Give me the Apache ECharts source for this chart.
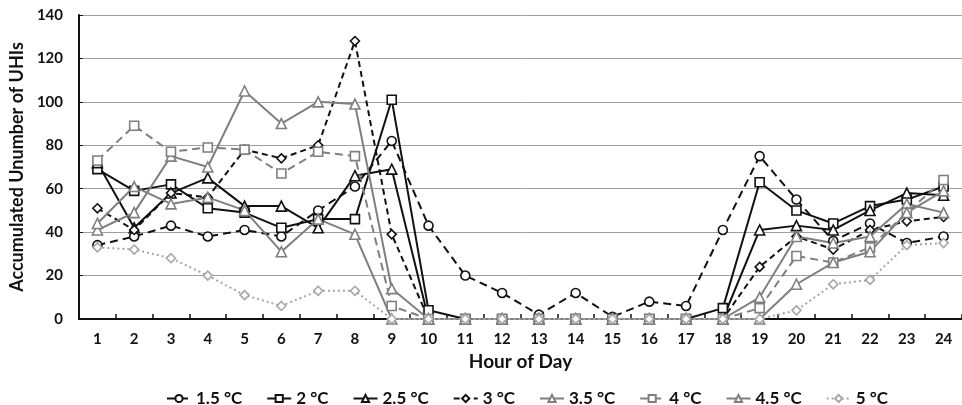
<!DOCTYPE html>
<html>
<head>
<meta charset="utf-8">
<script src="https://cdn.jsdelivr.net/npm/echarts@6.0.0/dist/echarts.min.js"></script>
<style>
  html, body { margin: 0; padding: 0; background: #fff; }
  #chart { width: 962px; height: 405px; }
</style>
</head>
<body>
<div id="chart"></div>
<script>
// hours on the x axis
var hours = ['1','2','3','4','5','6','7','8','9','10','11','12','13','14','15','16','17','18','19','20','21','22','23','24'];
var yTicks = [0, 20, 40, 60, 80, 100, 120, 140];

// accumulated number of UHIs per threshold
var t15 = [34, 38, 43, 38, 41, 38, 50, 61, 82, 43, 20, 12, 2, 12, 1, 8, 6, 41, 75, 55, 36, 44, 35, 38];
var t20 = [69, 59, 62, 51, 49, 42, 46, 46, 101, 4, 0, 0, 0, 0, 0, 0, 0, 5, 63, 50, 44, 52, 55, 61];
var t25 = [72, 42, 58, 65, 52, 52, 42, 66, 69, 0, 0, 0, 0, 0, 0, 0, 0, 0, 41, 43, 41, 50, 58, 57];
var t30 = [51, 41, 58, 56, 78, 74, 80, 128, 39, 0, 0, 0, 0, 0, 0, 0, 0, 0, 24, 38, 32, 41, 45, 47];
var t35 = [41, 49, 75, 70, 105, 90, 100, 99, 14, 0, 0, 0, 0, 0, 0, 0, 0, 0, 10, 38, 35, 38, 53, 49];
var t40 = [73, 89, 77, 79, 78, 67, 77, 75, 6, 0, 0, 0, 0, 0, 0, 0, 0, 0, 5, 29, 26, 33, 49, 64];
var t45 = [44, 61, 53, 56, 50, 31, 46, 39, 0, 0, 0, 0, 0, 0, 0, 0, 0, 0, 0, 16, 26, 31, 49, 59];
var t50 = [33, 32, 28, 20, 11, 6, 13, 13, 0, 0, 0, 0, 0, 0, 0, 0, 0, 0, 0, 4, 16, 18, 34, 35];

var FONT = 'Lato';

// one line series with hollow markers
function mk(name, data, color, symbol, dash) {
  return {
    name: name,
    type: 'line',
    data: data,
    symbol: symbol,
    symbolSize: symbol === 'triangle' ? 10 : 9,
    lineStyle: { color: color, width: 2, type: dash },
    itemStyle: { color: '#fff', borderColor: color, borderWidth: 1.6 },
    emphasis: { disabled: true }
  };
}

var chart = echarts.init(document.getElementById('chart'));
chart.setOption({
  animation: false,
  grid: { left: 74, right: 0, top: 15, bottom: 86 },
  legend: {
    top: 385,
    left: 161,
    itemGap: 24,
    itemWidth: 24,
    itemHeight: 9,
    textStyle: { fontFamily: FONT, fontWeight: 'bold', fontSize: 17, color: '#111' },
    data: ['1.5 °C', '2 °C', '2.5 °C', '3 °C', '3.5 °C', '4 °C', '4.5 °C', '5 °C']
  },
  xAxis: {
    type: 'category',
    data: hours,
    boundaryGap: true,
    name: 'Hour of Day',
    nameLocation: 'middle',
    nameGap: 32,
    nameTextStyle: { fontFamily: FONT, fontWeight: 'bold', fontSize: 19, color: '#111' },
    axisLine: { lineStyle: { color: '#111', width: 2 } },
    axisTick: { show: true, inside: true, length: 5, lineStyle: { color: '#111', width: 1.5 } },
    axisLabel: { fontFamily: FONT, fontWeight: 'bold', fontSize: 15, color: '#111', margin: 13 }
  },
  yAxis: {
    type: 'value',
    min: 0,
    max: 140,
    interval: 20,
    name: 'Accumulated Unumber of UHIs',
    nameLocation: 'middle',
    nameGap: 48,
    nameTextStyle: { fontFamily: FONT, fontWeight: 'bold', fontSize: 18, color: '#111' },
    axisLine: { show: true, lineStyle: { color: '#111', width: 2 } },
    axisTick: { show: true, inside: true, length: 4, lineStyle: { color: '#111' } },
    axisLabel: {
      fontFamily: FONT, fontWeight: 'bold', fontSize: 15, color: '#111', margin: 16,
      formatter: function (v) { return yTicks.indexOf(v) >= 0 ? String(v) : ''; }
    },
    splitLine: { show: true, lineStyle: { color: '#a0a0a0', width: 1 } }
  },
  series: [
    mk('1.5 °C', t15, '#111', 'circle', [8, 5]),
    mk('2 °C', t20, '#111', 'rect', 'solid'),
    mk('2.5 °C', t25, '#111', 'triangle', 'solid'),
    mk('3 °C', t30, '#111', 'diamond', [6, 4]),
    mk('3.5 °C', t35, '#7f7f7f', 'triangle', 'solid'),
    mk('4 °C', t40, '#7f7f7f', 'rect', [8, 5]),
    mk('4.5 °C', t45, '#7f7f7f', 'triangle', 'solid'),
    mk('5 °C', t50, '#a6a6a6', 'diamond', [2, 3])
  ]
});
</script>
</body>
</html>
